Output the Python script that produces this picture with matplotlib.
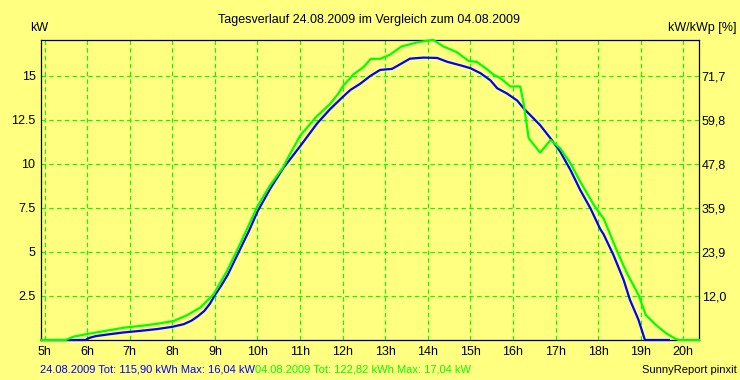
import matplotlib
matplotlib.use("Agg")
import matplotlib.pyplot as plt

# ---- data ----
blue_label = "24.08.2009 Tot: 115,90 kWh Max: 16,04 kW"
green_label = "04.08.2009 Tot: 122,82 kWh Max: 17,04 kW"
title = "Tagesverlauf 24.08.2009 im Vergleich zum 04.08.2009"

blue_h = [4.92, 5.96, 6.05, 6.2, 6.5, 6.86, 7.25, 7.64, 8.0, 8.27, 8.45, 8.6, 8.75, 8.88,
          9.0, 9.15, 9.3, 9.44, 9.6, 9.8, 10.0, 10.3, 10.6, 11.0, 11.4, 11.7, 12.0, 12.18,
          12.41, 12.65, 12.88, 13.16, 13.35, 13.58, 13.9, 14.22, 14.46, 14.77, 15.0, 15.24,
          15.47, 15.63, 15.86, 16.1, 16.25, 16.64, 16.88, 17.11, 17.35, 17.58, 17.82, 18.05,
          18.13, 18.36, 18.6, 18.75, 18.95, 19.1, 19.66]
blue_kw = [0, 0, 0.12, 0.22, 0.32, 0.43, 0.52, 0.62, 0.75, 0.9, 1.1, 1.35, 1.65, 2.05,
           2.55, 3.1, 3.7, 4.4, 5.2, 6.2, 7.3, 8.6, 9.75, 11.0, 12.3, 13.1, 13.8, 14.2,
           14.55, 15.0, 15.34, 15.4, 15.66, 15.98, 16.04, 16.02, 15.8, 15.6, 15.44, 15.15,
           14.75, 14.3, 14.0, 13.6, 13.16, 12.2, 11.46, 10.7, 9.66, 8.52, 7.48, 6.3,
           6.0, 4.83, 3.41, 2.27, 1.14, 0, 0]

green_h = [4.92, 5.49, 5.68, 6.0, 6.46, 6.86, 7.25, 7.64, 8.03, 8.34, 8.66, 8.97, 9.28,
           9.44, 9.6, 10.0, 10.3, 10.6, 10.75, 11.0, 11.39, 11.7, 11.9, 12.0, 12.15, 12.26,
           12.49, 12.66, 12.88, 13.11, 13.38, 13.74, 13.99, 14.13, 14.37, 14.68, 14.96,
           15.15, 15.39, 15.55, 15.71, 15.94, 16.17, 16.25, 16.37, 16.64, 16.88, 17.11,
           17.35, 17.58, 17.9, 18.13, 18.25, 18.45, 18.68, 18.95, 19.12, 19.36, 19.6,
           19.83, 19.9, 20.37]
green_kw = [0, 0, 0.19, 0.34, 0.53, 0.7, 0.8, 0.92, 1.08, 1.4, 1.85, 2.6, 3.9,
            4.7, 5.5, 7.6, 8.8, 9.8, 10.5, 11.6, 12.7, 13.4, 14.0, 14.4, 14.8, 15.1,
            15.5, 15.97, 15.97, 16.2, 16.67, 16.9, 17.0, 17.04, 16.67, 16.35, 15.85,
            15.8, 15.38, 15.06, 14.87, 14.4, 14.4, 13.45, 11.46, 10.64, 11.36, 10.89,
            10.04, 9.0, 7.67, 6.9, 6.2, 5.02, 3.79, 2.56, 1.42, 0.85, 0.38,
            0.05, 0, 0]

x_ticks = list(range(5, 21))
x_labels = [f"{h}h" for h in x_ticks]
y_ticks = [2.5, 5, 7.5, 10, 12.5, 15]
y_labels = ["2.5", "5", "7.5", "10", "12.5", "15"]
y2_labels = ["12,0", "23,9", "35,9", "47,8", "59,8", "71,7"]

# ---- style ----
BG = "#FFFF80"
GRID = "#00FF00"
BLUE = "#0000FF"
GREEN = "#00FF00"
FONT = "Liberation Sans"

W, H = 740, 380
fig = plt.figure(figsize=(W / 100, H / 100), dpi=100, facecolor=BG)
L, R, T, B = 41, 699, 40, 340
ax = fig.add_axes([L / W, 1 - B / H, (R - L) / W, (B - T) / H])
ax.set_facecolor(BG)

ax.set_xlim(4.915, 20.37)
ax.set_ylim(0, 17.04)

ax.set_xticks(x_ticks)
ax.set_xticklabels(x_labels, fontfamily=FONT, fontsize=9)
ax.set_yticks(y_ticks)
ax.set_yticklabels(y_labels, fontfamily=FONT, fontsize=9)
ax.tick_params(axis="both", length=0, pad=4, colors="black")
ax.tick_params(axis="y", pad=4)

ax.grid(True, color=GRID, linestyle=(0, (4, 3)), linewidth=0.8)
ax.set_axisbelow(True)
for s in ax.spines.values():
    s.set_color("black")
    s.set_linewidth(0.9)

ax.plot(blue_h, blue_kw, color=BLUE, linewidth=1.6, clip_on=False, zorder=3)
ax.plot(green_h, green_kw, color=GREEN, linewidth=1.6, clip_on=False, zorder=4)

ax2 = ax.twinx()
ax2.set_ylim(ax.get_ylim())
ax2.set_yticks(y_ticks)
ax2.set_yticklabels(y2_labels, fontfamily=FONT, fontsize=9)
ax2.tick_params(axis="y", length=0, pad=2)
for s in ax2.spines.values():
    s.set_visible(False)

fig.text(369 / W, 1 - 20 / H, title, ha="center", va="center", fontfamily=FONT, fontsize=9)
fig.text(30 / W, 1 - 28 / H, "kW", ha="left", va="center", fontfamily=FONT, fontsize=9)
fig.text(737 / W, 1 - 28 / H, "kW/kWp [%]", ha="right", va="center", fontfamily=FONT, fontsize=9)

t1 = fig.text(40 / W, 1 - 369 / H, blue_label, ha="left", va="center",
              fontfamily=FONT, fontsize=8, color=BLUE)
fig.canvas.draw()
bb = t1.get_window_extent()
fig.text(bb.x1 / W, 1 - 369 / H, green_label, ha="left", va="center",
         fontfamily=FONT, fontsize=8, color=GREEN)
fig.text(737 / W, 1 - 370 / H, "SunnyReport pinxit", ha="right", va="center",
         fontfamily=FONT, fontsize=8, color="black")

fig.savefig("out.png", dpi=100, facecolor=BG)
